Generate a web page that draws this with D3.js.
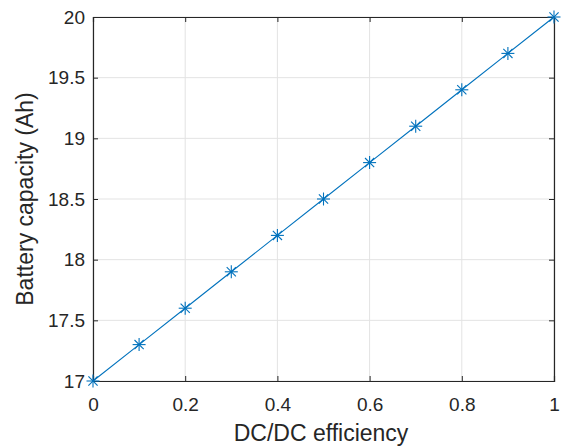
<!DOCTYPE html>
<html lang="en">
<head>
    <meta charset="UTF-8" />
    <title>Battery capacity vs DC/DC efficiency</title>
    <script src="https://d3js.org/d3.v7.min.js"></script>
    <style>
        body { margin: 0; background: #fff; }
        text { font-family: "Liberation Sans", Arial, Helvetica, sans-serif; fill: #262626; }
    </style>
</head>
<body>
    <script>
        var w = 565;
        var h = 448;
        var margin = {top: 17, right: 11, bottom: 67, left: 93};

        // data
        var efficiency = [0, 0.1, 0.2, 0.3, 0.4, 0.5, 0.6, 0.7, 0.8, 0.9, 1];
        var capacity = [17, 17.3, 17.6, 17.9, 18.2, 18.5, 18.8, 19.1, 19.4, 19.7, 20];
        var xTicks = [0, 0.2, 0.4, 0.6, 0.8, 1];
        var yTicks = [17, 17.5, 18, 18.5, 19, 19.5, 20];

        var svg = d3.select("body")
            .append("svg")
            .attr("width", w)
            .attr("height", h);

        var xScale = d3.scaleLinear()
            .domain([0, 1])
            .range([margin.left, w - margin.right]);

        var yScale = d3.scaleLinear()
            .domain([17, 20])
            .range([h - margin.bottom, margin.top]);

        var x0 = xScale.range()[0], x1 = xScale.range()[1];
        var y0 = yScale.range()[0], y1 = yScale.range()[1];

        // grid
        svg.append("g")
            .selectAll("line")
            .data(xTicks)
            .enter()
            .append("line")
            .attr("x1", d => xScale(d)).attr("x2", d => xScale(d))
            .attr("y1", y0).attr("y2", y1)
            .attr("stroke", "#e3e3e3").attr("stroke-width", 1);

        svg.append("g")
            .selectAll("line")
            .data(yTicks)
            .enter()
            .append("line")
            .attr("x1", x0).attr("x2", x1)
            .attr("y1", d => yScale(d)).attr("y2", d => yScale(d))
            .attr("stroke", "#e3e3e3").attr("stroke-width", 1);

        // axes with inward ticks
        var fmt = d3.format("");
        var bottomAxis = svg.append("g")
            .attr("transform", "translate(0," + y0 + ")")
            .call(d3.axisBottom(xScale).tickValues(xTicks).tickSize(-5).tickPadding(17).tickFormat(fmt));
        var leftAxis = svg.append("g")
            .attr("transform", "translate(" + x0 + ",0)")
            .call(d3.axisLeft(yScale).tickValues(yTicks).tickSize(-5).tickPadding(8).tickFormat(fmt));
        var topAxis = svg.append("g")
            .attr("transform", "translate(0," + y1 + ")")
            .call(d3.axisTop(xScale).tickValues(xTicks).tickSize(-5).tickFormat(""));
        var rightAxis = svg.append("g")
            .attr("transform", "translate(" + x1 + ",0)")
            .call(d3.axisRight(yScale).tickValues(yTicks).tickSize(-5).tickFormat(""));

        [bottomAxis, leftAxis, topAxis, rightAxis].forEach(function(g) {
            g.selectAll("path").attr("stroke", "#262626").attr("stroke-width", 1.2);
            g.selectAll("line").attr("stroke", "#262626").attr("stroke-width", 1);
            g.selectAll("text").attr("font-size", 19).attr("fill", "#262626")
                .style("font-family", "'Liberation Sans', Arial, sans-serif");
        });

        // line
        var line = d3.line()
            .x((d, i) => xScale(efficiency[i]))
            .y(d => yScale(d));

        svg.append("path")
            .datum(capacity)
            .attr("d", line)
            .attr("fill", "none")
            .attr("stroke", "#0072BD")
            .attr("stroke-width", 1.1);

        // asterisk markers
        var r = 6.5;
        var marks = svg.append("g")
            .selectAll("g")
            .data(capacity)
            .enter()
            .append("g")
            .attr("transform", (d, i) => "translate(" + xScale(efficiency[i]) + "," + yScale(d) + ")");

        [0, 45, 90, 135].forEach(function(a) {
            var rad = a * Math.PI / 180;
            marks.append("line")
                .attr("x1", -r * Math.cos(rad)).attr("y1", -r * Math.sin(rad))
                .attr("x2", r * Math.cos(rad)).attr("y2", r * Math.sin(rad))
                .attr("stroke", "#0072BD").attr("stroke-width", 1.1);
        });

        // axis labels
        svg.append("text")
            .attr("x", 321)
            .attr("y", 441)
            .attr("text-anchor", "middle")
            .attr("font-size", 23)
            .text("DC/DC efficiency");

        svg.append("text")
            .attr("transform", "translate(33," + ((y0 + y1) / 2) + ") rotate(-90)")
            .attr("text-anchor", "middle")
            .attr("font-size", 23)
            .text("Battery capacity (Ah)");
    </script>
</body>
</html>
